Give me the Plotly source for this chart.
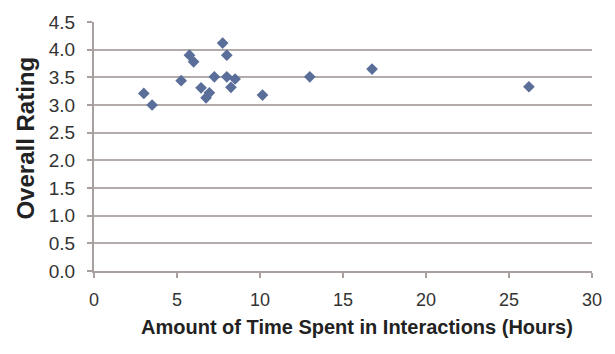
import plotly.graph_objects as go

hours = [3.0, 3.5, 5.25, 5.75, 6.0, 6.45, 6.75, 6.95, 7.25, 7.75, 8.0, 8.0, 8.25, 8.5, 10.15, 13.0, 16.75, 26.2]
rating = [3.21, 3.0, 3.44, 3.9, 3.78, 3.31, 3.13, 3.22, 3.51, 4.12, 3.9, 3.51, 3.32, 3.47, 3.18, 3.51, 3.65, 3.33]

x_ticks = [0, 5, 10, 15, 20, 25, 30]
y_ticks = [0.0, 0.5, 1.0, 1.5, 2.0, 2.5, 3.0, 3.5, 4.0, 4.5]

x_title = "Amount of Time Spent in Interactions (Hours)"
y_title = "Overall Rating"

fig = go.Figure(go.Scatter(
    x=hours, y=rating, mode="markers",
    marker=dict(symbol="diamond", size=9, color="#5a6e99", line=dict(width=0)),
))

font_family = "Liberation Sans, Arial, sans-serif"
axis_grey = "#a89f9f"
fig.update_layout(
    width=615, height=354,
    margin=dict(l=94, r=23, t=16, b=83),
    paper_bgcolor="white", plot_bgcolor="white",
    showlegend=False,
    font=dict(family=font_family, size=16, color="#333333"),
)
fig.update_xaxes(
    range=[0, 30], tickvals=x_ticks, ticktext=[str(v) for v in x_ticks],
    showgrid=False, zeroline=False,
    showline=True, linecolor=axis_grey, linewidth=2,
    ticks="outside", ticklen=5, tickcolor=axis_grey, tickwidth=1.5,
    ticklabelstandoff=6,
    tickfont=dict(size=18, color="#333333"),
)
fig.update_yaxes(
    range=[0, 4.5], tickvals=y_ticks, ticktext=[f"{v:.1f}" for v in y_ticks],
    showgrid=True, gridcolor="#b3aaaa", gridwidth=2, zeroline=False,
    showline=True, linecolor=axis_grey, linewidth=2,
    ticks="outside", ticklen=5, tickcolor=axis_grey, tickwidth=1.5,
    ticklabelstandoff=8,
    tickfont=dict(size=19, color="#333333"),
)
fig.add_annotation(
    text=f"<b>{x_title}</b>", xref="paper", yref="paper",
    x=0.528, y=-0.2235, xanchor="center", yanchor="middle",
    showarrow=False, font=dict(size=20, color="#222222"),
)
fig.add_annotation(
    text=f"<b>{y_title}</b>", xref="paper", yref="paper",
    x=-0.138, y=0.533, xanchor="center", yanchor="middle", textangle=-90,
    showarrow=False, font=dict(size=24, color="#222222"),
)

fig.write_html("out.html")
